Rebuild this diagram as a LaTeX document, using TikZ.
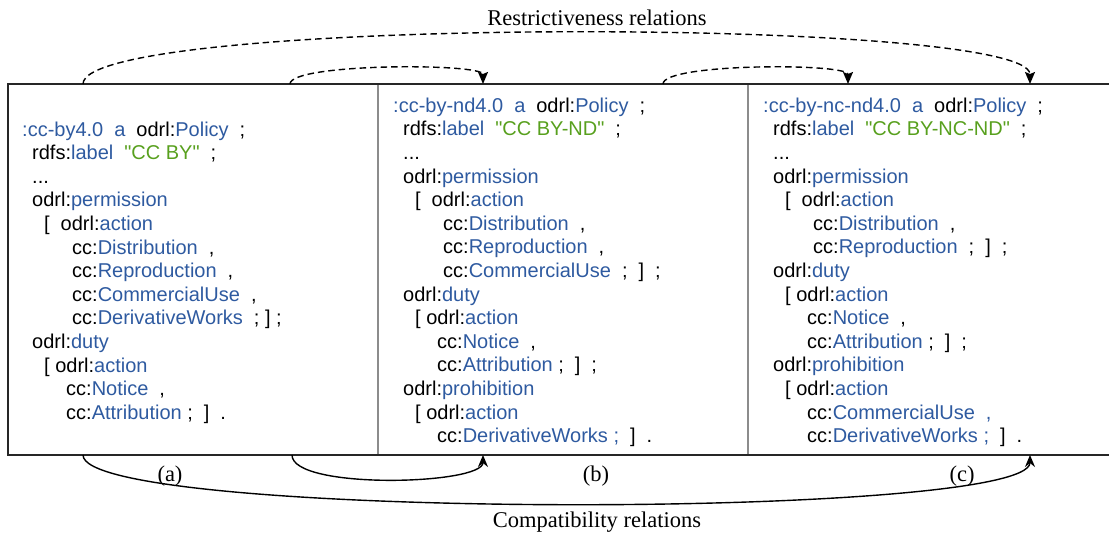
\documentclass[tikz,border=0pt]{standalone}
\usepackage{fontspec}
\setmainfont{Liberation Serif}
\setsansfont{Liberation Sans}[Ligatures=TeXOff]
\usetikzlibrary{arrows.meta,
  calc,
  positioning
}
\definecolor{ttlblue}{RGB}{46,90,160}
\definecolor{ttlgreen}{RGB}{88,160,30}
\newcommand*{\iri}[1]{\textcolor{ttlblue}{#1}}
\newcommand*{\lit}[1]{\textcolor{ttlgreen}{"#1"}}
\newcommand*{\gap}{\hspace{0.55em}}
\newcommand*{\ind}[1]{\hspace*{#1pt}}

\tikzset{
  panel/.style={minimum width=#1, minimum height=371pt, inner sep=0, outer sep=0},
  code/.style={font=\sffamily\fontsize{20}{23.6}\selectfont, align=left,
    anchor=north west, inner sep=0},
  relname/.style={font=\fontsize{22.5}{27}\selectfont, inner sep=0},
  frame/.style={line width=1.3pt, color=black!85},
  divider/.style={line width=2.2pt, color=black!45},
  restrict/.style={line width=1.4pt, dash pattern=on 6.5pt off 4pt,
    -{Stealth[length=12pt,width=10pt,inset=2pt]}},
  compat/.style={line width=1.4pt, -{Stealth[length=12pt,width=10pt]}}
}

\begin{document}
\begin{tikzpicture}[x=1pt, y=1pt]
  \useasboundingbox (0,0) rectangle (1109,536);

  % the three policies
  \node[panel=370pt] (pa) at (193,266.5) {};
  \node[panel=370pt, right=0pt of pa] (pb) {};
  \node[panel=361pt, right=0pt of pb] (pc) {};

  \draw[divider] (pb.north west) -- (pb.south west);
  \draw[divider] (pc.north west) -- (pc.south west);
  \draw[frame] (pc.north east) -- (pa.north west) -- (pa.south west) -- (pc.south east);

  \node[code] (ccby) at ([shift={(14,-37.4)}]pa.north west) {%
    \iri{:cc-by4.0}\gap\iri{a}\gap odrl:\iri{Policy}\gap;\\
    \ind{10}rdfs:\iri{label}\gap\lit{CC BY}\gap;\\
    \ind{10}...\\
    \ind{10}odrl:\iri{permission}\\
    \ind{22}[\gap odrl:\iri{action}\\
    \ind{50}cc:\iri{Distribution}\gap,\\
    \ind{50}cc:\iri{Reproduction}\gap,\\
    \ind{50}cc:\iri{CommercialUse}\gap,\\
    \ind{50}cc:\iri{DerivativeWorks}\gap; ] ;\\
    \ind{10}odrl:\iri{duty}\\
    \ind{22}[ odrl:\iri{action}\\
    \ind{44}cc:\iri{Notice}\gap,\\
    \ind{44}cc:\iri{Attribution} ;\gap]\gap.};

  \node[code] (ccbynd) at ([shift={(15,-13.6)}]pb.north west) {%
    \iri{:cc-by-nd4.0}\gap\iri{a}\gap odrl:\iri{Policy}\gap;\\
    \ind{10}rdfs:\iri{label}\gap\lit{CC BY-ND}\gap;\\
    \ind{10}...\\
    \ind{10}odrl:\iri{permission}\\
    \ind{22}[\gap odrl:\iri{action}\\
    \ind{50}cc:\iri{Distribution}\gap,\\
    \ind{50}cc:\iri{Reproduction}\gap,\\
    \ind{50}cc:\iri{CommercialUse}\gap;\gap]\gap;\\
    \ind{10}odrl:\iri{duty}\\
    \ind{22}[ odrl:\iri{action}\\
    \ind{44}cc:\iri{Notice}\gap,\\
    \ind{44}cc:\iri{Attribution} ;\gap]\gap;\\
    \ind{10}odrl:\iri{prohibition}\\
    \ind{22}[ odrl:\iri{action}\\
    \ind{44}cc:\iri{DerivativeWorks ;}\gap]\gap.};

  \node[code] (ccbyncnd) at ([shift={(15,-13.6)}]pc.north west) {%
    \iri{:cc-by-nc-nd4.0}\gap\iri{a}\gap odrl:\iri{Policy}\gap;\\
    \ind{10}rdfs:\iri{label}\gap\lit{CC BY-NC-ND}\gap;\\
    \ind{10}...\\
    \ind{10}odrl:\iri{permission}\\
    \ind{22}[\gap odrl:\iri{action}\\
    \ind{50}cc:\iri{Distribution}\gap,\\
    \ind{50}cc:\iri{Reproduction}\gap;\gap]\gap;\\
    \ind{10}odrl:\iri{duty}\\
    \ind{22}[ odrl:\iri{action}\\
    \ind{44}cc:\iri{Notice}\gap,\\
    \ind{44}cc:\iri{Attribution} ;\gap]\gap;\\
    \ind{10}odrl:\iri{prohibition}\\
    \ind{22}[ odrl:\iri{action}\\
    \ind{44}cc:\iri{CommercialUse\gap,}\\
    \ind{44}cc:\iri{DerivativeWorks ;}\gap]\gap.};

  % where the relations start and end
  \coordinate (ta1) at ([xshift=75pt]pa.north west);
  \coordinate (ta2) at ([xshift=282pt]pa.north west);
  \coordinate (tb1) at ([xshift=105pt]pb.north west);
  \coordinate (tb2) at ([xshift=285pt]pb.north west);
  \coordinate (tc1) at ([xshift=100pt]pc.north west);
  \coordinate (tc2) at ([xshift=282pt]pc.north west);
  \coordinate (ba1) at ([xshift=75pt]pa.south west);
  \coordinate (ba2) at ([xshift=284pt]pa.south west);
  \coordinate (bb1) at ([xshift=105pt]pb.south west);
  \coordinate (bc2) at ([xshift=282pt]pc.south west);

  \draw[restrict] (ta1) .. controls +(0,68) and +(0,68) .. (tc2);
  \draw[restrict] (ta2) .. controls +(0,21) and +(0,21) .. (tb1);
  \draw[restrict] (tb2) .. controls +(0,21) and +(0,21) .. (tc1);

  \draw[compat] (ba2) .. controls +(0,-35) and +(0,-30) .. (bb1);
  \draw[compat] (ba1) .. controls +(0,-65) and +(0,-65) .. (bc2);

  \node[relname] (resLbl) at (597,518) {Restrictiveness relations};
  \node[relname] (comLbl) at (597,14) {Compatibility relations};
  \node[relname] (lblA) at (170,60) {(a)};
  \node[relname] (lblB) at (596,60) {(b)};
  \node[relname] (lblC) at (962,60) {(c)};
\end{tikzpicture}
\end{document}
